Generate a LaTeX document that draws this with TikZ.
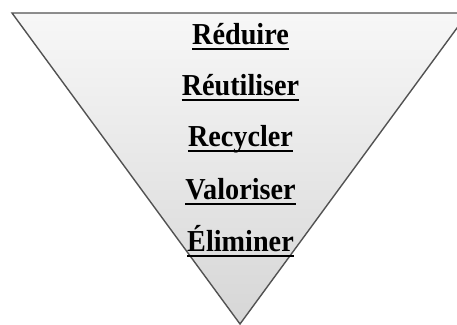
\documentclass[tikz,border=0pt]{standalone}
\usepackage{fontspec}
\setmainfont{Liberation Serif}
\begin{document}
\begin{tikzpicture}[x=1pt,y=1pt,
  lbl/.style={anchor=base,inner sep=0pt,yscale=1.08,transform shape,font=\fontsize{28.2}{30}\selectfont\bfseries},
  uline/.style={line width=2.3pt,black}]
\useasboundingbox (0,0) rectangle (457,324);
\coordinate (tl) at (12,311);
\coordinate (tr) at (468,311);
\coordinate (ap) at (240,0);
\shade[top color=black!3,bottom color=black!16,draw=black!68,line width=1.4pt,line join=miter]
  (tl) -- (tr) -- (ap) -- cycle;
\node[lbl] (a) at (240.5,279.5) {Réduire};
\node[lbl] (b) at (240.5,228.5) {Réutiliser};
\node[lbl] (c) at (240.5,177) {Recycler};
\node[lbl] (d) at (240.5,124.5) {Valoriser};
\node[lbl] (e) at (240.5,72.5) {Éliminer};
\foreach \n in {a,b,c,d,e}{
  \draw[uline] ([yshift=-4.2pt]\n.base west) -- ([yshift=-4.2pt]\n.base east);
}
\end{tikzpicture}
\end{document}
